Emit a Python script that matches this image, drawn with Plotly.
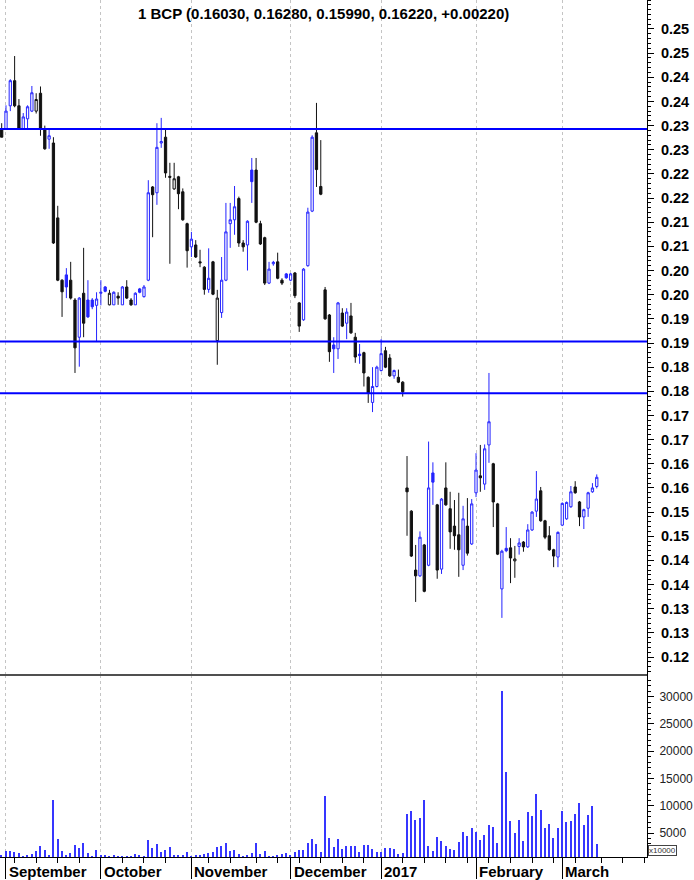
import plotly.graph_objects as go

# ---------------- data ----------------
month_labels = ["September", "October", "November", "December", "2017", "February", "March"]
month_start = [1, 23, 44, 67, 88, 110, 130]
week_ticks = [3, 8, 13, 18, 28, 33, 38, 48, 53, 59, 64, 69, 74, 79, 84, 93, 98, 103,
              108, 113, 118, 123, 128, 133, 139, 144, 149]

price_ticks = [0.125, 0.130, 0.135, 0.140, 0.145, 0.150, 0.155, 0.160, 0.165, 0.170,
               0.175, 0.180, 0.185, 0.190, 0.195, 0.200, 0.205, 0.210, 0.215, 0.220,
               0.225, 0.230, 0.235, 0.240, 0.245, 0.250, 0.255]
price_tick_labels = ["0.12", "0.13", "0.13", "0.14", "0.14", "0.15", "0.15", "0.16", "0.16",
                     "0.17", "0.17", "0.18", "0.18", "0.19", "0.19", "0.20", "0.20", "0.21",
                     "0.21", "0.22", "0.22", "0.23", "0.23", "0.24", "0.24", "0.25", "0.25"]
volume_ticks = [5000, 10000, 15000, 20000, 25000, 30000]
volume_tick_labels = ["5000", "10000", "15000", "20000", "25000", "30000"]

levels = [0.2343, 0.1903, 0.1796]

opens = [
    0.2343, 0.2343, 0.2391, 0.2443, 0.2391, 0.2343, 0.2364, 0.2380, 0.2380, 0.2417,
    0.2343, 0.2322, 0.2314, 0.2159, 0.2030, 0.2041, 0.2030, 0.1989, 0.1912, 0.2003,
    0.1989, 0.1989, 0.1978, 0.2003, 0.2016, 0.1979, 0.1979, 0.1997, 0.1979, 0.2016,
    0.1989, 0.1979, 0.2012, 0.1996, 0.2030, 0.2223, 0.2211, 0.2314, 0.2326, 0.2245,
    0.2219, 0.2244, 0.2213, 0.2147, 0.2099, 0.2103, 0.2068, 0.2057, 0.2011, 0.2068,
    0.1905, 0.1963, 0.2030, 0.2147, 0.2155, 0.2199, 0.2107, 0.2103, 0.2258, 0.2258,
    0.2147, 0.2118, 0.2024, 0.2064, 0.2068, 0.2030, 0.2043, 0.2030, 0.2045, 0.1983,
    0.1948, 0.2060, 0.2173, 0.2335, 0.2224, 0.2010, 0.1958, 0.1896, 0.1888, 0.1962,
    0.1941, 0.1956, 0.1912, 0.1877, 0.1880, 0.1829, 0.1777, 0.1810, 0.1843, 0.1884,
    0.1869, 0.1832, 0.1829, 0.1819, 0.1600, 0.1552, 0.1430, 0.1418, 0.1482, 0.1440,
    0.1631, 0.1565, 0.1432, 0.1600, 0.1557, 0.1521, 0.1503, 0.1440, 0.1521, 0.1484,
    0.1590, 0.1625, 0.1608, 0.1689, 0.1650, 0.1567, 0.1391, 0.1475, 0.1476, 0.1449,
    0.1479, 0.1488, 0.1478, 0.1513, 0.1552, 0.1594, 0.1532, 0.1501, 0.1472, 0.1457,
    0.1523, 0.1536, 0.1561, 0.1602, 0.1571, 0.1540, 0.1558, 0.1592, 0.1603]

highs = [
    0.2355, 0.2392, 0.2446, 0.2494, 0.2405, 0.2376, 0.2392, 0.2432, 0.2417, 0.2431,
    0.2350, 0.2343, 0.2326, 0.2184, 0.2032, 0.2055, 0.2068, 0.1993, 0.1995, 0.2097,
    0.2030, 0.1993, 0.2005, 0.2030, 0.2018, 0.2010, 0.2007, 0.2005, 0.2018, 0.2030,
    0.1993, 0.2005, 0.2014, 0.2020, 0.2237, 0.2225, 0.2355, 0.2366, 0.2341, 0.2273,
    0.2273, 0.2246, 0.2220, 0.2149, 0.2130, 0.2113, 0.2093, 0.2059, 0.2096, 0.2070,
    0.2010, 0.2078, 0.2190, 0.2190, 0.2225, 0.2203, 0.2113, 0.2154, 0.2283, 0.2283,
    0.2153, 0.2120, 0.2068, 0.2070, 0.2087, 0.2034, 0.2045, 0.2045, 0.2047, 0.1985,
    0.2055, 0.2180, 0.2330, 0.2397, 0.2320, 0.2016, 0.1960, 0.1912, 0.1985, 0.1972,
    0.1972, 0.1983, 0.1921, 0.1898, 0.1882, 0.1831, 0.1850, 0.1853, 0.1908, 0.1892,
    0.1877, 0.1845, 0.1845, 0.1821, 0.1666, 0.1554, 0.1482, 0.1510, 0.1484, 0.1696,
    0.1653, 0.1567, 0.1579, 0.1653, 0.1592, 0.1575, 0.1590, 0.1563, 0.1579, 0.1577,
    0.1672, 0.1689, 0.1690, 0.1838, 0.1652, 0.1569, 0.1472, 0.1519, 0.1496, 0.1480,
    0.1496, 0.1490, 0.1525, 0.1552, 0.1635, 0.1602, 0.1534, 0.1521, 0.1474, 0.1510,
    0.1570, 0.1572, 0.1604, 0.1614, 0.1573, 0.1557, 0.1592, 0.1610, 0.1628]

lows = [
    0.2326, 0.2343, 0.2380, 0.2388, 0.2343, 0.2343, 0.2343, 0.2378, 0.2375, 0.2329,
    0.2300, 0.2302, 0.2105, 0.2028, 0.1954, 0.1993, 0.1990, 0.1838, 0.1851, 0.1912,
    0.1952, 0.1970, 0.1902, 0.1978, 0.2005, 0.1978, 0.1979, 0.1979, 0.1979, 0.1991,
    0.1977, 0.1979, 0.2003, 0.1994, 0.2028, 0.2119, 0.2186, 0.2304, 0.2242, 0.2064,
    0.2217, 0.2177, 0.2153, 0.2056, 0.2078, 0.2076, 0.2057, 0.2000, 0.2004, 0.1999,
    0.1855, 0.1952, 0.2028, 0.2097, 0.2124, 0.2099, 0.2089, 0.2050, 0.2190, 0.2148,
    0.2103, 0.2020, 0.2022, 0.2060, 0.2032, 0.2020, 0.2033, 0.2028, 0.1993, 0.1923,
    0.1946, 0.2058, 0.2171, 0.2223, 0.2206, 0.1948, 0.1861, 0.1838, 0.1867, 0.1933,
    0.1908, 0.1919, 0.1859, 0.1857, 0.1810, 0.1776, 0.1757, 0.1808, 0.1841, 0.1848,
    0.1830, 0.1826, 0.1817, 0.1789, 0.1501, 0.1457, 0.1364, 0.1416, 0.1384, 0.1438,
    0.1565, 0.1412, 0.1422, 0.1563, 0.1474, 0.1472, 0.1416, 0.1430, 0.1460, 0.1482,
    0.1581, 0.1592, 0.1596, 0.1652, 0.1519, 0.1461, 0.1331, 0.1467, 0.1403, 0.1414,
    0.1462, 0.1468, 0.1476, 0.1511, 0.1540, 0.1530, 0.1494, 0.1470, 0.1436, 0.1436,
    0.1521, 0.1534, 0.1559, 0.1588, 0.1521, 0.1515, 0.1540, 0.1590, 0.1599]

closes = [
    0.2326, 0.2380, 0.2443, 0.2391, 0.2343, 0.2368, 0.2389, 0.2418, 0.2404, 0.2343,
    0.2302, 0.2329, 0.2107, 0.2030, 0.2006, 0.2016, 0.1993, 0.1890, 0.1993, 0.1941,
    0.1954, 0.1975, 0.1991, 0.2005, 0.2007, 0.2003, 0.2005, 0.1993, 0.2016, 0.1993,
    0.1979, 0.2003, 0.2005, 0.2016, 0.2211, 0.2207, 0.2305, 0.2317, 0.2252, 0.2243,
    0.2240, 0.2209, 0.2155, 0.2091, 0.2115, 0.2078, 0.2066, 0.2011, 0.2034, 0.2001,
    0.1993, 0.2030, 0.2130, 0.2155, 0.2182, 0.2107, 0.2099, 0.2152, 0.2234, 0.2150,
    0.2105, 0.2024, 0.2053, 0.2067, 0.2034, 0.2024, 0.2035, 0.2043, 0.1998, 0.1935,
    0.2053, 0.2171, 0.2326, 0.2259, 0.2208, 0.1950, 0.1882, 0.1888, 0.1983, 0.1935,
    0.1964, 0.1921, 0.1871, 0.1874, 0.1838, 0.1796, 0.1810, 0.1850, 0.1878, 0.1850,
    0.1832, 0.1843, 0.1819, 0.1799, 0.1592, 0.1459, 0.1418, 0.1498, 0.1386, 0.1600,
    0.1612, 0.1430, 0.1577, 0.1565, 0.1509, 0.1501, 0.1472, 0.1536, 0.1465, 0.1567,
    0.1637, 0.1621, 0.1681, 0.1737, 0.1571, 0.1463, 0.1469, 0.1470, 0.1455, 0.1453,
    0.1486, 0.1478, 0.1513, 0.1550, 0.1577, 0.1532, 0.1498, 0.1472, 0.1459, 0.1508,
    0.1568, 0.1570, 0.1592, 0.1590, 0.1540, 0.1555, 0.1590, 0.1600, 0.1622]

volumes = [
    1030, 1760, 1640, 1510, 1330, 840, 1030, 1210, 1760, 2670,
    1940, 1030, 11090, 3890, 1760, 1030, 1330, 2860, 2250, 3160,
    1330, 840, 1940, 1030, 1030, 840, 1030, 840, 720, 720,
    840, 1210, 1030, 720, 3710, 2250, 3040, 1450, 1820, 2430,
    1030, 1030, 1030, 1570, 720, 960, 1030, 1210, 1390, 1450,
    2430, 2610, 3160, 1700, 1940, 1210, 720, 1030, 1330, 3160,
    1210, 1760, 720, 840, 1030, 1210, 1330, 1000, 1570, 1940,
    1940, 3160, 3890, 3040, 1450, 11700, 4080, 2430, 3890, 2060,
    2670, 2550, 2670, 1450, 2860, 2860, 2060, 1510, 1510, 2250,
    2250, 2060, 1210, 1330, 8530, 8960, 7310, 7740, 10970, 2670,
    1760, 4260, 3590, 2670, 2120, 1940, 3340, 5170, 4500, 5900,
    5170, 3770, 4620, 6450, 6090, 3160, 31100, 16210, 7130, 4990,
    7310, 3540, 8770, 8040, 12190, 9260, 5900, 6640, 4080, 5900,
    9080, 6940, 7130, 8530, 10480, 6390, 8350, 9990, 3040]

# ---------------- styling ----------------
BLUE = "#2424ff"
BLACK = "#111111"
FONT = "Liberation Sans, Arial, sans-serif"

n = len(closes)
idx = list(range(n))
# colour: blue when close >= previous close, black otherwise
is_blue = [i > 0 and closes[i] >= closes[i - 1] for i in idx]


def pick(flag):
    ii = [i for i in idx if is_blue[i] == flag]
    return (ii, [opens[i] for i in ii], [highs[i] for i in ii],
            [lows[i] for i in ii], [closes[i] for i in ii])


fig = go.Figure()

for flag, col in [(False, BLACK), (True, BLUE)]:
    xi, o, h, l, c = pick(flag)
    fig.add_trace(go.Candlestick(
        x=xi, open=o, high=h, low=l, close=c,
        xaxis="x", yaxis="y",
        increasing=dict(line=dict(color=col, width=1), fillcolor="white"),
        decreasing=dict(line=dict(color=col, width=1), fillcolor=col),
        whiskerwidth=0, showlegend=False, hoverinfo="skip",
    ))

fig.add_trace(go.Bar(
    x=idx, y=volumes, xaxis="x2", yaxis="y2", width=0.32,
    marker=dict(color="#3636ff", line=dict(width=0)),
    showlegend=False, hoverinfo="skip",
))

# panel geometry (pixels)
W, H = 694, 880
plot_bottom = 857
sep = 675
vol_top = (plot_bottom - sep) / plot_bottom

xrange = [-0.39, 149.65]
grid = dict(showgrid=True, gridcolor="#c4c4c4", gridwidth=1, griddash="3px,3px")

shapes = []
for lv in levels:
    shapes.append(dict(type="line", xref="paper", x0=0, x1=1, yref="y", y0=lv, y1=lv,
                       line=dict(color="#0000ff", width=2), layer="above"))
shapes.append(dict(type="line", xref="paper", x0=0, x1=1, yref="paper", y0=vol_top, y1=vol_top,
                   line=dict(color="#505050", width=2), layer="above"))

annotations = []
title = "1 BCP ({:.5f}, {:.5f}, {:.5f}, {:.5f}, {:+.5f})".format(
    opens[-1], highs[-1], lows[-1], closes[-1], closes[-1] - closes[-2])
annotations.append(dict(text=title, xref="paper", yref="paper", x=0.5, y=1, xanchor="center",
                        yanchor="top", yshift=-3, showarrow=False,
                        font=dict(family=FONT, size=15, color="black", weight="bold")))
for lab, pos in zip(month_labels, month_start):
    annotations.append(dict(text=lab, xref="x2", yref="paper", x=pos, y=0, xanchor="left",
                            yanchor="top", xshift=1, yshift=-4, showarrow=False,
                            font=dict(family=FONT, size=15, color="black", weight="bold")))
annotations.append(dict(text="x10000", xref="paper", yref="paper", x=1, y=0, xanchor="left",
                        yanchor="bottom", xshift=1, yshift=1, showarrow=False,
                        bordercolor="#444", borderwidth=1, borderpad=0, bgcolor="white",
                        font=dict(family=FONT, size=8, color="#333")))

fig.update_layout(
    width=W, height=H,
    margin=dict(l=0, r=47, t=0, b=H - plot_bottom),
    paper_bgcolor="white", plot_bgcolor="white",
    font=dict(family=FONT, color="black"),
    boxgap=0.25,
    xaxis=dict(domain=[0, 1], anchor="y", range=xrange, tickmode="array", tickvals=month_start,
               showticklabels=False, ticks="", zeroline=False, showline=False,
               rangeslider=dict(visible=False), matches="x2", **grid),
    xaxis2=dict(domain=[0, 1], anchor="y2", range=xrange, tickmode="array", tickvals=month_start,
                showticklabels=False, ticks="outside", ticklen=21, tickcolor="black", tickwidth=1,
                zeroline=False, showline=True, linecolor="black", linewidth=1,
                rangeslider=dict(visible=False),
                minor=dict(tickmode="array", tickvals=week_ticks, ticks="outside", ticklen=5,
                           tickcolor="black", tickwidth=1, showgrid=False),
                **grid),
    yaxis=dict(domain=[vol_top, 1], anchor="x", side="right", range=[0.12128, 0.2610],
               tickmode="array", tickvals=price_ticks, ticktext=price_tick_labels,
               ticks="outside", ticklen=6, tickcolor="black", tickwidth=1,
               showline=True, linecolor="black", linewidth=1, showgrid=False, zeroline=False,
               ticklabelstandoff=4,
               tickfont=dict(family=FONT, size=14.5, color="black", weight="bold"),
               minor=dict(tickmode="linear", tick0=0, dtick=0.001, ticks="outside", ticklen=3,
                          tickcolor="black", tickwidth=1, showgrid=False)),
    yaxis2=dict(domain=[0, vol_top], anchor="x2", side="right", range=[604, 33965],
                tickmode="array", tickvals=volume_ticks, ticktext=volume_tick_labels,
                ticks="outside", ticklen=6, tickcolor="black", tickwidth=1,
                showline=True, linecolor="black", linewidth=1, showgrid=False, zeroline=False,
                ticklabelstandoff=3,
                tickfont=dict(family=FONT, size=12, color="#222"),
                minor=dict(tickmode="linear", tick0=0, dtick=1000, ticks="outside", ticklen=3,
                           tickcolor="black", tickwidth=1, showgrid=False)),
    shapes=shapes,
    annotations=annotations,
    bargap=0,
)

fig.write_html("out.html", config={"displayModeBar": False},
               post_script="document.body.style.margin='0';document.body.style.padding='0';")
